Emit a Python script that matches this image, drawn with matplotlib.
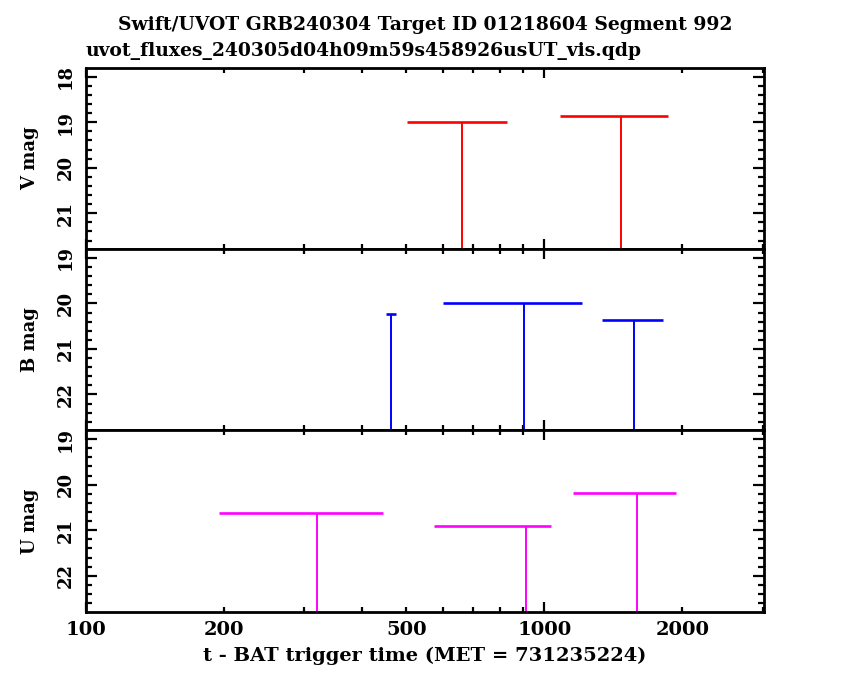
import matplotlib
matplotlib.use('Agg')
import matplotlib.pyplot as plt
from matplotlib.ticker import FixedLocator, MultipleLocator, FuncFormatter, NullFormatter

# ---------------- data (upper limits) ----------------
title_line1 = "Swift/UVOT GRB240304 Target ID 01218604 Segment 992"
title_line2 = "uvot_fluxes_240305d04h09m59s458926usUT_vis.qdp"
xlabel = "t - BAT trigger time (MET = 731235224)"

band_names = ["V", "B", "U"]
band_colors = ["#ff0000", "#0000ff", "#ff00ff"]

v_time = [663, 1467]
v_err_lo = [161, 384]
v_err_hi = [164, 393]
v_mag = [19.00, 18.87]

b_time = [462, 901, 1570]
b_err_lo = [10, 301, 237]
b_err_hi = [12, 308, 241]
b_mag = [20.23, 19.98, 20.37]

u_time = [320, 912, 1592]
u_err_lo = [125, 338, 436]
u_err_hi = [126, 120, 344]
u_mag = [20.63, 20.90, 20.18]

x_range = [100, 3008]
y_ranges = [[21.79, 17.81], [22.79, 18.81], [22.79, 18.81]]

x_major = [100, 1000]
x_minor = [200, 300, 400, 500, 600, 700, 800, 900, 2000, 3000]
x_labelled = [100, 200, 500, 1000, 2000]

# ---------------- plot ----------------
FONT = "DejaVu Serif"
plt.rcParams['font.family'] = [FONT, 'DejaVu Sans']
plt.rcParams['font.weight'] = 'bold'

fig = plt.figure(figsize=(8.5, 6.8), dpi=100)
gs = fig.add_gridspec(3, 1, left=85.6/850, right=763.8/850,
                      top=1-68/680, bottom=1-611.7/680, hspace=0)

datasets = [
    (v_time, v_err_lo, v_err_hi, v_mag),
    (b_time, b_err_lo, b_err_hi, b_mag),
    (u_time, u_err_lo, u_err_hi, u_mag),
]

def xfmt(val, pos):
    for t in x_labelled:
        if abs(val - t) < 1e-6 * t:
            return str(t)
    return ""

for i, (t, elo, ehi, mag) in enumerate(datasets):
    ax = fig.add_subplot(gs[i])
    col = band_colors[i]
    ax.set_xscale('log')
    ax.set_xlim(x_range)
    ax.set_ylim(y_ranges[i])
    faint = y_ranges[i][0]
    ax.errorbar(t, mag, xerr=[elo, ehi], fmt='none', ecolor=col,
                elinewidth=1.9, capsize=0)
    ax.vlines(t, mag, [faint + 1] * len(t), colors=col, linewidth=1.4)

    for s in ax.spines.values():
        s.set_linewidth(2.0)

    ax.xaxis.set_major_locator(FixedLocator(x_major))
    ax.xaxis.set_minor_locator(FixedLocator(x_minor))
    ax.yaxis.set_major_locator(MultipleLocator(1))
    ax.yaxis.set_minor_locator(MultipleLocator(0.2))
    ax.tick_params(axis='both', which='both', direction='in',
                   top=True, right=True, width=1.6)
    ax.tick_params(axis='x', which='both', labelsize=14)
    ax.tick_params(axis='y', which='both', labelsize=13)
    ax.tick_params(axis='x', which='major', length=7.5, pad=7)
    ax.tick_params(axis='x', which='minor', length=3.8, pad=7)
    ax.tick_params(axis='y', which='major', length=8, pad=8)
    ax.tick_params(axis='y', which='minor', length=4.5)
    ax.yaxis.set_major_formatter(FuncFormatter(lambda v, p: "%d" % round(v)))
    for lab in ax.get_yticklabels():
        lab.set_rotation(90)
        lab.set_va('center')
        lab.set_fontweight('bold')
    if i < 2:
        ax.xaxis.set_major_formatter(NullFormatter())
        ax.xaxis.set_minor_formatter(NullFormatter())
    else:
        ax.xaxis.set_major_formatter(FuncFormatter(xfmt))
        ax.xaxis.set_minor_formatter(FuncFormatter(xfmt))
        for lab in ax.get_xticklabels(which='both'):
            lab.set_fontweight('bold')

    bb = ax.get_position()
    fig.text(30/850, (bb.y0 + bb.y1) / 2, "%s mag" % band_names[i],
             rotation=90, ha='center', va='center', fontsize=13,
             fontweight='bold')

fig.text(0.5, 1 - 25/680, title_line1, ha='center', va='center',
         fontsize=13.5, fontweight='bold')
fig.text(85.6/850, 1 - 51/680, title_line2, ha='left', va='center',
         fontsize=13.5, fontweight='bold')
fig.text((85.6 + 763.8) / 2 / 850, 1 - 656/680, xlabel, ha='center',
         va='center', fontsize=14, fontweight='bold')

fig.savefig("out.png", dpi=100)
